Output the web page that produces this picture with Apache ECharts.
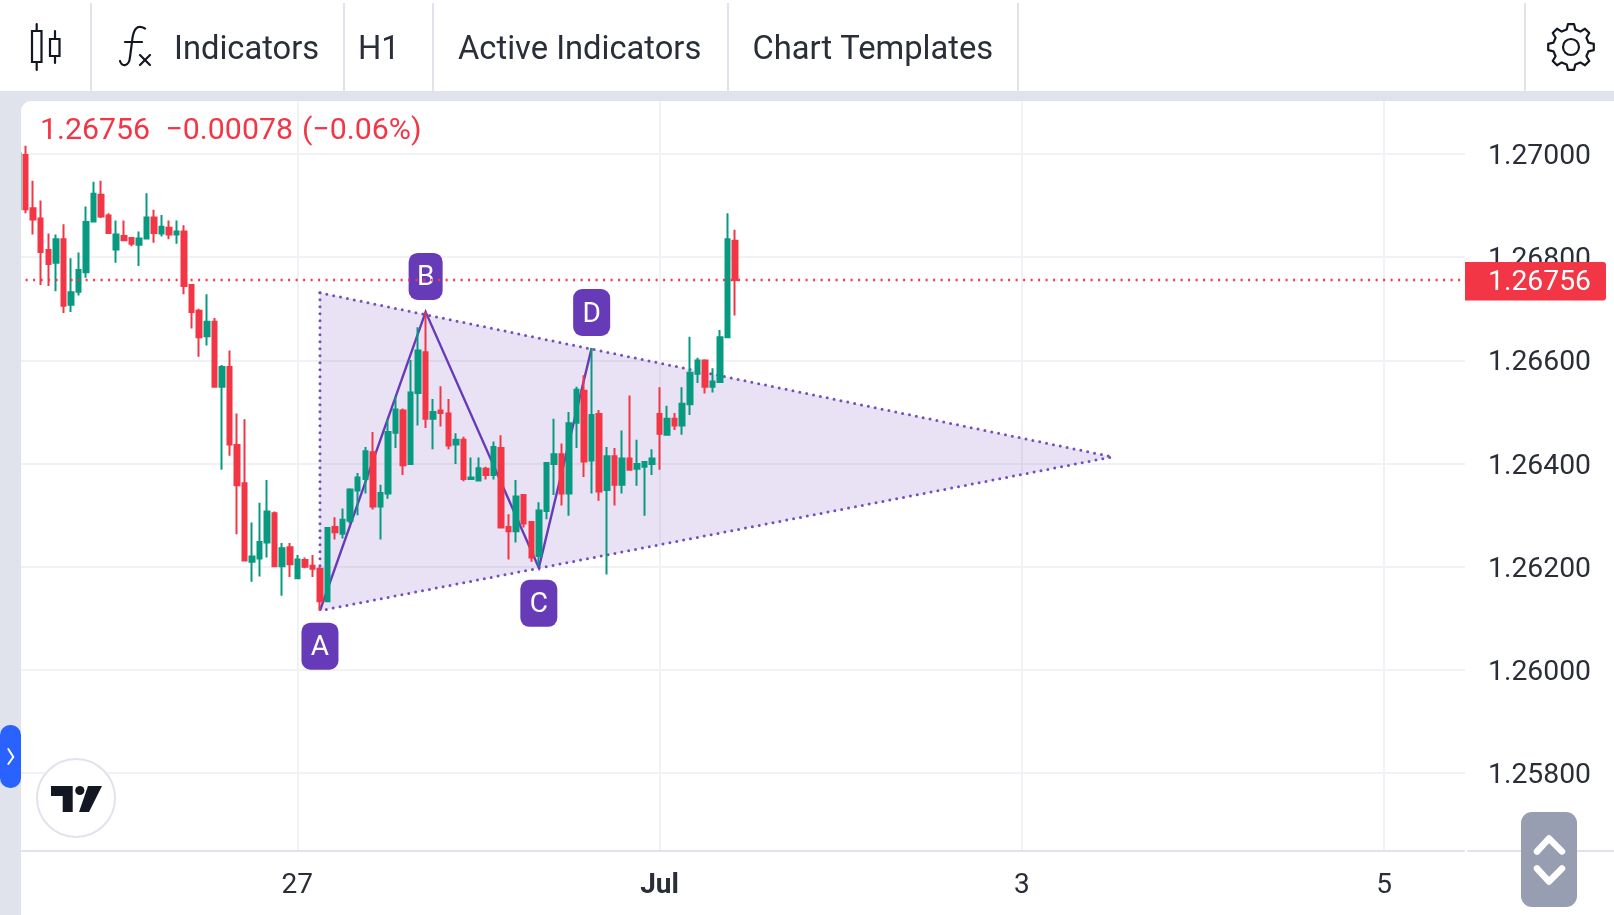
<!DOCTYPE html>
<html><head><meta charset="utf-8"><title>GBP chart</title>
<style>html,body{margin:0;padding:0;background:#fff}#c{width:1614px;height:915px}</style>
<script src="https://cdn.jsdelivr.net/npm/echarts@6/dist/echarts.min.js"></script></head>
<body><div id="c"></div>
<script>
const opens=[1.26893,1.26998,1.26895,1.26875,1.26814,1.26789,1.26835,1.26708,1.26733,1.26771,1.26869,1.26921,1.26881,1.26815,1.26841,1.26837,1.26824,1.26836,1.26877,1.26846,1.26857,1.26844,1.26850,1.26746,
1.26696,1.26647,1.26675,1.26549,1.26587,1.26436,1.26362,1.26210,1.26216,1.26247,1.26304,1.26201,1.26238,1.26178,1.26213,1.26202,1.26196,1.26133,1.26277,1.26264,1.26289,1.26348,1.26370,1.26422,
1.26317,1.26342,1.26460,1.26503,1.26399,1.26537,1.26616,1.26487,1.26503,1.26497,1.26437,1.26446,1.26370,1.26367,1.26390,1.26378,1.26430,1.26277,1.26269,1.26339,1.26287,1.26221,1.26308,1.26399,
1.26418,1.26342,1.26479,1.26541,1.26406,1.26496,1.26349,1.26414,1.26359,1.26410,1.26390,1.26394,1.26399,1.26496,1.26456,1.26487,1.26474,1.26515,1.26574,1.26600,1.26549,1.26558,1.26645,1.26832];
const closes=[1.27001,1.26893,1.26873,1.26810,1.26787,1.26835,1.26706,1.26732,1.26775,1.26868,1.26923,1.26879,1.26847,1.26844,1.26833,1.26826,1.26836,1.26877,1.26847,1.26859,1.26844,1.26850,1.26744,1.26694,
1.26645,1.26675,1.26549,1.26587,1.26437,1.26358,1.26212,1.26220,1.26248,1.26307,1.26201,1.26236,1.26205,1.26214,1.26200,1.26196,1.26133,1.26275,1.26267,1.26291,1.26350,1.26373,1.26424,1.26317,
1.26343,1.26461,1.26505,1.26397,1.26538,1.26619,1.26487,1.26500,1.26498,1.26435,1.26446,1.26370,1.26373,1.26391,1.26378,1.26432,1.26276,1.26269,1.26336,1.26284,1.26218,1.26309,1.26401,1.26418,
1.26342,1.26478,1.26543,1.26404,1.26494,1.26346,1.26414,1.26359,1.26410,1.26388,1.26399,1.26403,1.26410,1.26458,1.26487,1.26474,1.26516,1.26576,1.26600,1.26549,1.26559,1.26645,1.26835,1.26756];
const lows=[1.26875,1.26885,1.26844,1.26746,1.26744,1.26734,1.26692,1.26694,1.26726,1.26760,1.26867,1.26876,1.26846,1.26789,1.26833,1.26821,1.26783,1.26836,1.26828,1.26840,1.26835,1.26826,1.26728,1.26662,
1.26607,1.26629,1.26549,1.26388,1.26415,1.26263,1.26212,1.26171,1.26181,1.26218,1.26200,1.26144,1.26180,1.26178,1.26197,1.26180,1.26115,1.26133,1.26253,1.26255,1.26284,1.26300,1.26342,1.26311,
1.26253,1.26332,1.26430,1.26378,1.26399,1.26474,1.26469,1.26428,1.26472,1.26428,1.26399,1.26366,1.26369,1.26366,1.26369,1.26369,1.26276,1.26214,1.26247,1.26276,1.26210,1.26202,1.26292,1.26339,
1.26319,1.26299,1.26430,1.26374,1.26342,1.26328,1.26185,1.26319,1.26342,1.26388,1.26357,1.26299,1.26378,1.26388,1.26456,1.26465,1.26456,1.26494,1.26556,1.26536,1.26538,1.26556,1.26645,1.26687];
const highs=[1.27001,1.27016,1.26948,1.26910,1.26846,1.26844,1.26864,1.26798,1.26809,1.26898,1.26946,1.26948,1.26885,1.26871,1.26871,1.26837,1.26850,1.26924,1.26892,1.26882,1.26871,1.26871,1.26862,1.26748,
1.26700,1.26728,1.26682,1.26591,1.26619,1.26497,1.26486,1.26286,1.26324,1.26368,1.26307,1.26246,1.26246,1.26223,1.26218,1.26223,1.26200,1.26275,1.26296,1.26313,1.26352,1.26382,1.26432,1.26461,
1.26359,1.26486,1.26530,1.26507,1.26601,1.26664,1.26694,1.26525,1.26550,1.26525,1.26459,1.26452,1.26412,1.26412,1.26394,1.26443,1.26455,1.26302,1.26368,1.26339,1.26287,1.26325,1.26403,1.26487,
1.26439,1.26500,1.26549,1.26571,1.26624,1.26504,1.26432,1.26430,1.26464,1.26532,1.26446,1.26403,1.26428,1.26548,1.26512,1.26498,1.26548,1.26646,1.26605,1.26602,1.26585,1.26659,1.26885,1.26853];
const slotCount=193;
const xTickSlots=[37,85,133,181];
const xTickLabels=['27','Jul','3','5'];
const priceTicks=[1.258,1.26,1.262,1.264,1.266,1.268,1.27];
const lastPrice=1.26756;
const legendParts=['1.26756','−0.00078','(−0.06%)'];
const patternNames=['A','B','C','D'];
const patternSlots=[40.1,54.05,69,76];
const patternPrices=[1.26115,1.26694,1.26198,1.26624];
const triangleSlots=[40.25,144.7,40.25];
const trianglePrices=[1.26731,1.26413,1.26115];
const toolbarItems=[['Indicators',174],['H1',358],['Active Indicators',458],['Chart Templates',752.5]];

const RED='#F23645',GREEN='#089981',PURPLE='#673AB7',TXT='#2A2E39',LINE='#E0E3EB',GRID='#F1F2F5';
const categories=[];for(let i=0;i<slotCount;i++){const k=xTickSlots.indexOf(i);categories.push(k>=0?xTickLabels[k]:'s'+i);}
const isTick=i=>xTickSlots.indexOf(i)>=0;
const candles=opens.map((o,i)=>[o,closes[i],lows[i],highs[i]]);

function renderPattern(params,api){
  const poly=triangleSlots.map((s,i)=>api.coord([s,trianglePrices[i]]));
  const zig=patternSlots.map((s,i)=>api.coord([s,patternPrices[i]]));
  const dot={stroke:'#7350BC',lineWidth:3,lineDash:[0,7],lineCap:'round',fill:null};
  const children=[
    {type:'polygon',shape:{points:poly},style:{fill:'rgba(103,58,183,0.15)',stroke:null}},
    {type:'polyline',shape:{points:[poly[0],poly[1],poly[2]]},style:dot},
    {type:'line',shape:{x1:poly[0][0],y1:poly[0][1],x2:poly[2][0],y2:poly[2][1]},style:dot},
    {type:'polyline',shape:{points:zig},style:{stroke:PURPLE,lineWidth:2.4,fill:null}}
  ];
  const above=[false,true,false,true];
  const boxW=[37,34,37,37];
  zig.forEach((p,i)=>{
    const top=above[i]?p[1]-12-47:p[1]+12;
    children.push({type:'rect',shape:{x:p[0]-boxW[i]/2,y:top,width:boxW[i],height:47,r:9},style:{fill:PURPLE}});
    children.push({type:'text',style:{text:patternNames[i],x:p[0],y:top+25.5,fill:'#fff',font:'28px Roboto',textAlign:'center',textVerticalAlign:'middle'}});
  });
  return {type:'group',children};
}

const t=(text,x,y,font,fill)=>({type:'text',z:101,style:{text,x,y,font:font||'32.7px Roboto',fill:fill||TXT,textVerticalAlign:'middle'}});
const rect=(x,y,w,h,fill,r,z)=>({type:'rect',z:z||100,shape:{x,y,width:w,height:h,r:r||0},style:{fill}});
const ln=(x1,y1,x2,y2,stroke,w,z)=>({type:'line',z:z||101,shape:{x1,y1,x2,y2},style:{stroke,lineWidth:w,lineCap:'round'}});
const pl=(pts,stroke,w,z)=>({type:'polyline',z:z||101,shape:{points:pts},style:{stroke,lineWidth:w,fill:null,lineCap:'round',lineJoin:'round'}});
const INK='#131722';
function gearPoints(cx,cy,R,r,n){const out=[];for(let i=0;i<n;i++){const a=i*2*Math.PI/n-Math.PI/2,w=Math.PI/n;
  [[r,a-w*0.62],[R,a-w*0.34],[R,a+w*0.34],[r,a+w*0.62]].forEach(q=>out.push([cx+q[0]*Math.cos(q[1]),cy+q[0]*Math.sin(q[1])]));}
  return out;}
const curve=(x1,y1,cpx1,cpy1,cpx2,cpy2,x2,y2)=>({type:'bezierCurve',z:101,shape:{x1,y1,cpx1,cpy1,cpx2,cpy2,x2,y2},style:{stroke:INK,lineWidth:2.2,fill:null,lineCap:'round'}});
const chrome=[
  rect(0,0,1614,91,'#fff'),
  rect(0,91,1614,10,LINE),
  rect(0,91,21,824,LINE),
  rect(21,101,10,10,LINE),
  {type:'sector',z:100,shape:{cx:31,cy:111,r:10,r0:0,startAngle:Math.PI,endAngle:1.5*Math.PI},style:{fill:'#fff'}},
  rect(90,3,2,88,LINE),rect(343,3,2,88,LINE),rect(432,3,2,88,LINE),rect(727,3,2,88,LINE),rect(1017,3,2,88,LINE),rect(1524,3,2,88,LINE),
  {type:'rect',z:101,shape:{x:32,y:31,width:9.5,height:31},style:{fill:'#fff',stroke:INK,lineWidth:2.2}},
  ln(36.7,24,36.7,31,INK,2.2),ln(36.7,62,36.7,70,INK,2.2),
  {type:'rect',z:101,shape:{x:50,y:39,width:9.5,height:17},style:{fill:'#fff',stroke:INK,lineWidth:2.2}},
  ln(55,31,55,39,INK,2.2),ln(55,56,55,63,INK,2.2),
  curve(145,28.5,137,24,133,29,132,42),
  ln(132,42,130,57,INK,2.2),
  curve(130,57,129,67,122,67,120,61),
  ln(125,42,142,42,INK,2.2),ln(140,55,150,65,INK,2.2),ln(150,55,140,65,INK,2.2),
  {type:'polygon',z:101,shape:{points:gearPoints(1571,47,23,18,8)},style:{stroke:INK,lineWidth:2.2,fill:null,lineJoin:'round'}},
  {type:'circle',z:101,shape:{cx:1571,cy:47,r:8},style:{stroke:INK,lineWidth:2.2,fill:null}},
  rect(1465,101,3,160,'#fff',0,50),
  rect(1465,302,3,551,'#fff',0,50),
  rect(1465,262,141,38.5,RED,[0,3,3,0],2),
  ln(1468,851,1614,851,LINE,2,50),
  rect(0,725,21,63,'#2962FF',10,102),
  pl([[8.3,749],[13.3,757],[8.3,764]],'#fff',2,103),
  {type:'circle',z:60,shape:{cx:76,cy:798,r:39},style:{fill:'#fff',stroke:LINE,lineWidth:2}},
  {type:'polygon',z:61,shape:{points:[[51,786],[72.7,786],[72.7,812],[62.7,812],[62.7,796],[51,796]]},style:{fill:INK}},
  {type:'circle',z:61,shape:{cx:79.8,cy:790.5,r:4.6},style:{fill:INK}},
  {type:'polygon',z:61,shape:{points:[[88,786],[102,786],[89,812],[79,812]]},style:{fill:INK}},
  rect(1521,812,56,95,'#979EB1',11,102),
  pl([[1537,851.5],[1549,838.5],[1562,851.5]],'#fff',6.5,103),
  pl([[1537,868.5],[1549,881.5],[1562,868.5]],'#fff',6.5,103),
  t(legendParts[0],40,131.5,'30.3px Roboto',RED),
  t(legendParts[1],165.5,131.5,'30.3px Roboto',RED),
  t(legendParts[2],302,131.5,'30.3px Roboto',RED)
].concat(toolbarItems.map(it=>t(it[0],it[1],51)));

const chart=echarts.init(document.getElementById('c'),null,{renderer:'canvas'});
chart.setOption({
  animation:false,backgroundColor:'#fff',
  textStyle:{fontFamily:'Roboto'},
  grid:{left:18.1,top:101,width:1449,height:750,containLabel:false},
  xAxis:{type:'category',boundaryGap:false,data:categories,
    axisLine:{show:true,lineStyle:{color:LINE,width:2}},axisTick:{show:false},
    splitLine:{show:true,interval:(i)=>isTick(i),lineStyle:{color:GRID,width:2}},
    axisLabel:{interval:(i)=>isTick(i),margin:21,fontSize:28,color:TXT,fontFamily:'Roboto',
      formatter:v=>v==='Jul'?'{b|Jul}':v,rich:{b:{fontWeight:'bold',fontSize:28,color:TXT,fontFamily:'Roboto'}},hideOverlap:false}},
  yAxis:{type:'value',position:'right',scale:true,min:1.256492,max:1.271027,
    axisLine:{show:false},axisTick:{show:false,customValues:priceTicks},
    splitLine:{show:true,lineStyle:{color:GRID,width:2}},
    axisLabel:{customValues:priceTicks,margin:21,fontSize:28.3,color:TXT,fontFamily:'Roboto',verticalAlign:'top',lineHeight:6,formatter:v=>v.toFixed(5)}},
  graphic:{elements:chrome},
  series:[
    {type:'custom',name:'pattern',z:1,clip:false,silent:true,data:[[0,1.26]],renderItem:renderPattern,encode:{x:0,y:1}},
    {type:'candlestick',name:'GBPUSD',z:3,data:candles,barWidth:5,clip:true,
      itemStyle:{color:GREEN,color0:RED,borderColor:GREEN,borderColor0:RED,borderWidth:2},
      markLine:{silent:true,symbol:'none',precision:5,animation:false,
        lineStyle:{color:RED,width:2.4,type:[2,5.5]},
        label:{show:true,position:'end',distance:21,formatter:()=>lastPrice.toFixed(5),color:'#fff',fontSize:28.3,fontFamily:'Roboto',verticalAlign:'top',lineHeight:6},
        data:[{yAxis:lastPrice}]}}
  ]
});
</script></body></html>
